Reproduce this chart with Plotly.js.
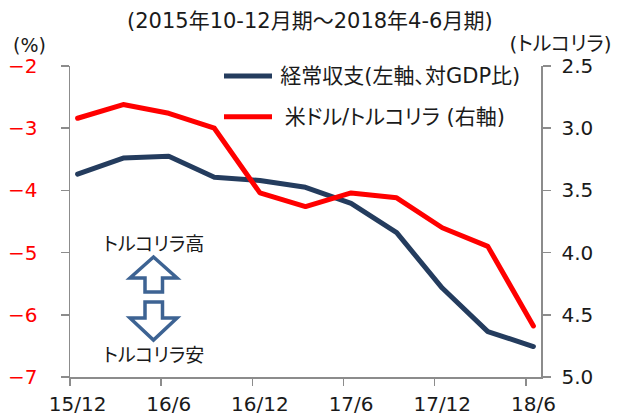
<!DOCTYPE html>
<html>
<head>
<meta charset="utf-8">
<script src="https://cdn.plot.ly/plotly-3.0.1.min.js"></script>
<style>
  html, body { margin: 0; padding: 0; background: #fff; }
  #chart { width: 629px; height: 419px; }
  .main-svg text { font-feature-settings: "palt" 1; }
  .scatterlayer path { stroke-linejoin: round; stroke-linecap: round; }
</style>
</head>
<body>
<div id="chart"></div>
<script>
// ---- data ----
const quarters = ['15/12','16/3','16/6','16/9','16/12','17/3','17/6','17/9','17/12','18/3','18/6'];
const currentAccount = [-3.74, -3.48, -3.45, -3.79, -3.84, -3.95, -4.21, -4.68, -5.57, -6.27, -6.51];
const usdTry = [2.92, 2.81, 2.88, 3.00, 3.52, 3.63, 3.52, 3.56, 3.80, 3.95, 4.59];
const tickLabels = ['15/12','16/6','16/12','17/6','17/12','18/6'];
const seriesNames = ['経常収支(左軸、対GDP比)', '米ドル/トルコリラ (右軸)'];
const subtitle = '(2015年10-12月期～2018年4-6月期)';
const leftUnit = '(%)';
const rightUnit = '(トルコリラ)';
const noteHigh = 'トルコリラ高';
const noteLow = 'トルコリラ安';

// month index relative to 2015/12
function monthIndex(q) {
  const [yy, mm] = q.split('/').map(Number);
  return (yy - 15) * 12 + mm - 12;
}
const xs = quarters.map(monthIndex);
const labelPos = tickLabels.map(monthIndex);
const tickPos = labelPos.map(m => m - 0.5);

const W = 629, H = 419;
const M = { l: 70, r: 88, t: 66, b: 42 };
const PW = W - M.l - M.r, PH = H - M.t - M.b;
const px = x => (x - M.l) / PW;
const py = y => (H - M.b - y) / PH;
function pathFrom(points) {
  return 'M' + points.map(p => px(p[0]).toFixed(5) + ',' + py(p[1]).toFixed(5)).join('L') + 'Z';
}

const FONT = 'DejaVu Sans, Noto Sans CJK JP, sans-serif';
const NAVY = '#243c5e';
const RED = '#ff0000';
const AXIS = '#8c8c8c';
const ARROW = '#3d6393';
const XRANGE = [-0.5, 30.5];

const traces = [
  { x: xs, y: currentAccount, type: 'scatter', mode: 'lines', name: seriesNames[0],
    line: { color: NAVY, width: 5 }, xaxis: 'x', yaxis: 'y', hoverinfo: 'skip' },
  { x: xs, y: usdTry, type: 'scatter', mode: 'lines', name: seriesNames[1],
    line: { color: RED, width: 5 }, xaxis: 'x', yaxis: 'y2', hoverinfo: 'skip' },
  // empty helper trace so the tick-mark axis is drawn
  { x: [], y: [], type: 'scatter', mode: 'lines', xaxis: 'x2', yaxis: 'y', hoverinfo: 'skip', showlegend: false }
];

const upArrow = [[153.5,257],[177,278],[162.5,278],[162.5,292],[145,292],[145,278],[130,278]];
const downArrow = [[145,302],[162.5,302],[162.5,318],[177,318],[153.5,340],[130,318],[145,318]];

const layout = {
  width: W, height: H,
  margin: M,
  paper_bgcolor: '#fff', plot_bgcolor: '#fff',
  showlegend: false,
  font: { family: FONT, size: 20, color: '#1a1a1a' },
  xaxis: {
    range: XRANGE, showgrid: false, zeroline: false,
    showline: true, linecolor: AXIS, linewidth: 1.5,
    tickmode: 'array', tickvals: labelPos, ticktext: tickLabels,
    ticks: '', ticklabelstandoff: 8,
    tickfont: { family: FONT, size: 20, color: '#1a1a1a' },
    fixedrange: true
  },
  xaxis2: {
    overlaying: 'x', anchor: 'y', side: 'bottom',
    range: XRANGE, showgrid: false, zeroline: false, showline: false,
    tickmode: 'array', tickvals: tickPos, showticklabels: false,
    ticks: 'outside', ticklen: 8, tickwidth: 1.5, tickcolor: AXIS,
    fixedrange: true
  },
  yaxis: {
    range: [-7, -2], dtick: 1, tick0: -7, showgrid: false, zeroline: false,
    showline: true, linecolor: AXIS, linewidth: 1.5,
    ticks: 'outside', ticklen: 8, tickwidth: 1.5, tickcolor: AXIS,
    ticklabelstandoff: 19,
    tickfont: { family: FONT, size: 20, color: RED },
    fixedrange: true
  },
  yaxis2: {
    overlaying: 'y', side: 'right', anchor: 'x',
    range: [5.0, 2.5], dtick: 0.5, tick0: 2.5, tickformat: '.1f',
    showgrid: false, zeroline: false,
    showline: true, linecolor: AXIS, linewidth: 1.5,
    ticks: 'outside', ticklen: 8, tickwidth: 1.5, tickcolor: AXIS,
    ticklabelstandoff: 7,
    tickfont: { family: FONT, size: 20, color: '#1a1a1a' },
    fixedrange: true
  },
  shapes: [
    { type: 'line', xref: 'paper', yref: 'paper', x0: px(224), x1: px(272), y0: py(76), y1: py(76),
      line: { color: NAVY, width: 5 } },
    { type: 'line', xref: 'paper', yref: 'paper', x0: px(224), x1: px(272), y0: py(116.7), y1: py(116.7),
      line: { color: RED, width: 5 } },
    { type: 'path', xref: 'paper', yref: 'paper', path: pathFrom(upArrow),
      fillcolor: '#ffffff', line: { color: ARROW, width: 3.5 } },
    { type: 'path', xref: 'paper', yref: 'paper', path: pathFrom(downArrow),
      fillcolor: '#ffffff', line: { color: ARROW, width: 3.5 } }
  ],
  annotations: [
    { text: subtitle, xref: 'paper', yref: 'paper', x: px(310), y: py(21),
      xanchor: 'center', yanchor: 'middle', showarrow: false,
      font: { family: FONT, size: 21, color: '#1a1a1a' } },
    { text: leftUnit, xref: 'paper', yref: 'paper', x: px(29), y: py(45),
      xanchor: 'center', yanchor: 'middle', showarrow: false,
      font: { family: FONT, size: 19, color: '#1a1a1a' } },
    { text: rightUnit, xref: 'paper', yref: 'paper', x: px(560), y: py(44),
      xanchor: 'center', yanchor: 'middle', showarrow: false,
      font: { family: FONT, size: 20, color: '#1a1a1a' } },
    { text: seriesNames[0], xref: 'paper', yref: 'paper', x: px(273), y: py(76),
      xanchor: 'left', yanchor: 'middle', showarrow: false,
      font: { family: FONT, size: 21, color: '#1a1a1a' } },
    { text: seriesNames[1], xref: 'paper', yref: 'paper', x: px(273), y: py(116.7),
      xanchor: 'left', yanchor: 'middle', showarrow: false,
      font: { family: FONT, size: 21, color: '#1a1a1a' } },
    { text: noteHigh, xref: 'paper', yref: 'paper', x: px(154), y: py(244.5),
      xanchor: 'center', yanchor: 'middle', showarrow: false,
      font: { family: FONT, size: 19, color: '#1a1a1a' } },
    { text: noteLow, xref: 'paper', yref: 'paper', x: px(154), y: py(355),
      xanchor: 'center', yanchor: 'middle', showarrow: false,
      font: { family: FONT, size: 19, color: '#1a1a1a' } }
  ]
};

Plotly.newPlot('chart', traces, layout, { staticPlot: true, displayModeBar: false });
</script>
</body>
</html>
